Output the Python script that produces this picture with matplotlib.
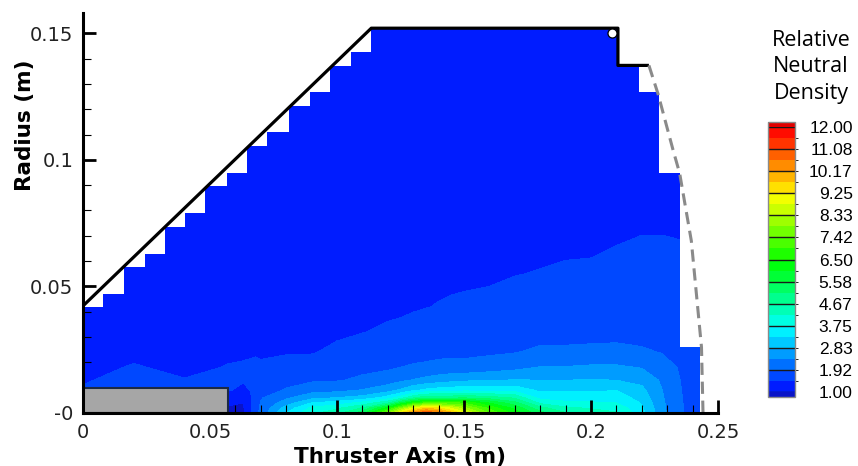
import numpy as np
import matplotlib
matplotlib.use("Agg")
import matplotlib.pyplot as plt
from matplotlib.colors import LinearSegmentedColormap, ListedColormap, BoundaryNorm
from matplotlib.path import Path
from matplotlib.patches import PathPatch, Rectangle

# ---------------------------------------------------------------------------
# Data
# ---------------------------------------------------------------------------

# radial nodes (m) at which each axial profile is given
radial_nodes = [0, 0.002, 0.004, 0.006, 0.009, 0.013, 0.018, 0.024,
                0.032, 0.042, 0.055, 0.07, 0.1, 0.155]

# axial stations (m)
axial_stations = [0.0, 0.02, 0.04, 0.057, 0.063, 0.068, 0.07, 0.08, 0.09,
                  0.10, 0.11, 0.12, 0.125, 0.13, 0.135, 0.14, 0.145, 0.15,
                  0.16, 0.17, 0.18, 0.19, 0.20, 0.21, 0.22, 0.228, 0.235,
                  0.245]

# relative neutral density, one row per axial station
density_profiles = [
    [1.60, 1.60, 1.60, 1.60, 1.50, 1.42, 1.38, 1.35, 1.30, 1.28, 1.25, 1.22, 1.20, 1.15],
    [1.70, 1.70, 1.70, 1.70, 1.70, 1.60, 1.48, 1.40, 1.35, 1.30, 1.27, 1.24, 1.20, 1.15],
    [1.65, 1.65, 1.65, 1.65, 1.55, 1.47, 1.40, 1.36, 1.33, 1.30, 1.27, 1.24, 1.20, 1.15],
    [0.95, 0.97, 1.05, 1.20, 1.50, 1.52, 1.47, 1.42, 1.37, 1.32, 1.28, 1.25, 1.20, 1.15],
    [0.90, 0.93, 1.00, 1.15, 1.35, 1.50, 1.48, 1.43, 1.38, 1.33, 1.29, 1.26, 1.20, 1.15],
    [1.75, 1.72, 1.68, 1.60, 1.55, 1.53, 1.50, 1.44, 1.39, 1.34, 1.30, 1.27, 1.20, 1.15],
    [2.05, 2.00, 1.95, 1.88, 1.75, 1.65, 1.49, 1.43, 1.39, 1.35, 1.30, 1.27, 1.20, 1.15],
    [3.30, 3.00, 2.60, 2.30, 1.95, 1.80, 1.55, 1.44, 1.40, 1.35, 1.30, 1.27, 1.20, 1.15],
    [4.10, 3.85, 3.30, 2.70, 2.20, 1.85, 1.60, 1.44, 1.40, 1.36, 1.31, 1.27, 1.20, 1.15],
    [4.50, 4.10, 3.50, 2.85, 2.25, 1.88, 1.68, 1.52, 1.41, 1.37, 1.32, 1.28, 1.21, 1.15],
    [5.40, 4.70, 3.90, 3.00, 2.40, 2.00, 1.80, 1.60, 1.45, 1.39, 1.33, 1.29, 1.21, 1.15],
    [7.80, 6.20, 4.60, 3.50, 2.65, 2.15, 1.85, 1.68, 1.50, 1.40, 1.35, 1.30, 1.22, 1.15],
    [9.30, 7.60, 5.60, 4.00, 2.90, 2.28, 1.92, 1.72, 1.52, 1.41, 1.36, 1.30, 1.22, 1.15],
    [10.4, 8.80, 6.50, 4.60, 3.20, 2.40, 1.97, 1.75, 1.56, 1.43, 1.37, 1.31, 1.22, 1.15],
    [11.1, 9.60, 7.00, 5.00, 3.40, 2.50, 2.00, 1.78, 1.60, 1.45, 1.38, 1.31, 1.22, 1.15],
    [10.7, 9.30, 7.00, 5.00, 3.50, 2.60, 2.05, 1.80, 1.65, 1.47, 1.40, 1.32, 1.22, 1.15],
    [9.90, 8.70, 7.00, 5.00, 3.55, 2.68, 2.08, 1.81, 1.66, 1.49, 1.40, 1.33, 1.23, 1.15],
    [9.00, 8.00, 6.90, 5.10, 3.60, 2.75, 2.05, 1.82, 1.66, 1.50, 1.41, 1.33, 1.23, 1.15],
    [7.40, 6.80, 6.00, 4.90, 3.60, 2.80, 2.15, 1.85, 1.68, 1.52, 1.42, 1.35, 1.23, 1.15],
    [6.30, 5.90, 5.30, 4.60, 3.60, 2.85, 2.25, 1.90, 1.70, 1.57, 1.45, 1.36, 1.24, 1.15],
    [5.30, 4.80, 4.10, 3.60, 3.20, 2.83, 2.40, 2.00, 1.75, 1.60, 1.47, 1.38, 1.25, 1.15],
    [4.70, 4.30, 3.85, 3.55, 3.22, 2.83, 2.40, 2.00, 1.76, 1.62, 1.49, 1.40, 1.26, 1.15],
    [4.50, 4.15, 3.80, 3.55, 3.22, 2.85, 2.45, 2.00, 1.80, 1.64, 1.50, 1.40, 1.27, 1.15],
    [4.25, 4.05, 3.75, 3.55, 3.28, 2.83, 2.45, 2.02, 1.80, 1.66, 1.54, 1.43, 1.28, 1.15],
    [3.45, 3.35, 3.25, 3.10, 2.95, 2.70, 2.35, 1.97, 1.78, 1.66, 1.55, 1.46, 1.28, 1.15],
    [2.50, 2.48, 2.45, 2.42, 2.38, 2.30, 2.10, 1.90, 1.75, 1.64, 1.55, 1.46, 1.28, 1.15],
    [1.98, 1.97, 1.96, 1.95, 1.94, 1.92, 1.88, 1.80, 1.70, 1.62, 1.53, 1.45, 1.28, 1.15],
    [1.60, 1.60, 1.60, 1.60, 1.60, 1.60, 1.58, 1.56, 1.54, 1.51, 1.50, 1.45, 1.28, 1.15],
]

# colour levels and legend labels
level_min, level_max, n_bands = 1.0, 12.0, 24
legend_ticks = [1.00, 1.92, 2.83, 3.75, 4.67, 5.58, 6.50, 7.42, 8.33, 9.25,
                10.17, 11.08, 12.00]
legend_labels = ["1.00", "1.92", "2.83", "3.75", "4.67", "5.58", "6.50",
                 "7.42", "8.33", "9.25", "10.17", "11.08", "12.00"]

# geometry of the computational domain (m)
stair_x = [0, 0.00787, 0.0160, 0.0243, 0.0322, 0.0403, 0.0482, 0.0565,
           0.0646, 0.0726, 0.0811, 0.0893, 0.0974, 0.1057, 0.1135]
stair_top = [0.0420, 0.0470, 0.0578, 0.0628, 0.0736, 0.0789, 0.0898,
             0.0947, 0.1056, 0.1109, 0.1214, 0.1267, 0.1372, 0.1427]
right_x = [0.2106, 0.2189, 0.2268, 0.2349, 0.2431]
right_y = [0.152, 0.1373, 0.1268, 0.0947, 0.0262, 0.0]

wall_x = [0, 0.1135, 0.2106, 0.2106, 0.2228]
wall_y = [0.0423, 0.152, 0.152, 0.1373, 0.1373]

plume_x = [0.2228, 0.2264, 0.2323, 0.2349, 0.2395, 0.2435, 0.2441]
plume_y = [0.1373, 0.126, 0.1039, 0.0947, 0.068, 0.026, 0.0]

anode_len, anode_rad = 0.0571, 0.0098
probe_x, probe_y = 0.2083, 0.150

# ---------------------------------------------------------------------------
# Plot
# ---------------------------------------------------------------------------

fig = plt.figure(figsize=(8.58, 4.66), dpi=100)
ax = fig.add_axes([83 / 858, 1 - 413 / 466, 635 / 858, 400 / 466])

levels = np.linspace(level_min, level_max, n_bands + 1)
rainbow = LinearSegmentedColormap.from_list(
    "tec", ["#0000ff", "#00ffff", "#00ff00", "#ffff00", "#ff0000"])
cmap = ListedColormap([rainbow((i + 0.7) / n_bands) for i in range(n_bands)])
cmap.set_under("#0a14c8")
cmap.set_over("#e00000")
norm = BoundaryNorm(levels, cmap.N)

Z = np.array(density_profiles).T
cs = ax.contourf(axial_stations, radial_nodes, Z, levels=levels,
                 cmap=cmap, norm=norm, extend="both", zorder=1)

# clip the field to the stair-stepped domain
verts = [(0, 0), (0, stair_top[0])]
for i, top in enumerate(stair_top):
    verts.append((stair_x[i], top))
    verts.append((stair_x[i + 1], top))
verts.append((stair_x[-1], right_y[0]))
for i, rx in enumerate(right_x):
    verts.append((rx, right_y[i]))
    verts.append((rx, right_y[i + 1]))
verts.append((0, 0))
domain = PathPatch(Path(verts), transform=ax.transData,
                   facecolor="none", edgecolor="none")
ax.add_patch(domain)
cs.set_clip_path(domain)

ax.add_patch(Rectangle((0, 0), anode_len, anode_rad, facecolor="#a6a6a6",
                       edgecolor="#1c2a44", linewidth=1.5, zorder=3))
ax.plot(wall_x, wall_y, color="black", linewidth=2.3, zorder=4,
        solid_capstyle="butt", clip_on=False)
ax.plot(plume_x, plume_y, color="#8a8a8a", linewidth=2.2,
        linestyle=(0, (4, 2.2)), zorder=4, clip_on=False)
ax.plot([probe_x], [probe_y], marker="o", markersize=6.5,
        markerfacecolor="white", markeredgecolor="black",
        markeredgewidth=0.9, zorder=5)

ax.set_xlim(0, 0.25)
ax.set_ylim(0, 0.158)
ax.set_xticks([0, 0.05, 0.1, 0.15, 0.2, 0.25])
ax.set_xticklabels(["0", "0.05", "0.1", "0.15", "0.2", "0.25"])
ax.set_yticks([0, 0.05, 0.1, 0.15])
ax.set_yticklabels(["-0", "0.05", "0.1", "0.15"])
ax.set_xticks(np.arange(0, 0.25, 0.01), minor=True)
ax.set_yticks(np.arange(0, 0.158, 0.01), minor=True)
ax.tick_params(which="major", direction="in", length=9.5, width=2.0,
               labelsize=14, labelcolor="#222222", pad=7)
ax.tick_params(which="minor", direction="in", length=5.5, width=0.8)
ax.tick_params(top=False, right=False, which="both")
for side in ("top", "right"):
    ax.spines[side].set_visible(False)
for side in ("left", "bottom"):
    ax.spines[side].set_linewidth(2.2)
    ax.spines[side].set_zorder(6)

ax.set_xlabel("Thruster Axis (m)", fontsize=15.5, fontweight="bold")
ax.xaxis.set_label_coords(0.5, -0.085)
ax.set_ylabel("Radius (m)", fontsize=15.5, fontweight="bold")
ax.yaxis.set_label_coords(-0.076, 0.72)

# legend
cax = fig.add_axes([768 / 858, 1 - 396.7 / 466, 27 / 858, 274.4 / 466])
cbar = fig.colorbar(cs, cax=cax, extend="both", extendrect=True,
                    extendfrac=0.018)
cbar.outline.set_edgecolor("#8a8a8a")
cbar.outline.set_linewidth(1.0)
cbar.set_ticks(legend_ticks)
cbar.set_ticklabels(legend_labels)
cax.tick_params(length=0, pad=41.5, labelsize=12.5)
for lbl in cax.get_yticklabels():
    lbl.set_horizontalalignment("right")
    lbl.set_fontfamily("Liberation Sans")
for t in legend_ticks:
    cax.axhline(t, color="#1a1a1a", linewidth=1.0)

fig.text(811 / 858, 1 - 67 / 466, "Relative\nNeutral\nDensity",
         ha="center", va="center", fontsize=15.5, family="Open Sans",
         linespacing=1.36)

fig.savefig("out.png", dpi=100)
